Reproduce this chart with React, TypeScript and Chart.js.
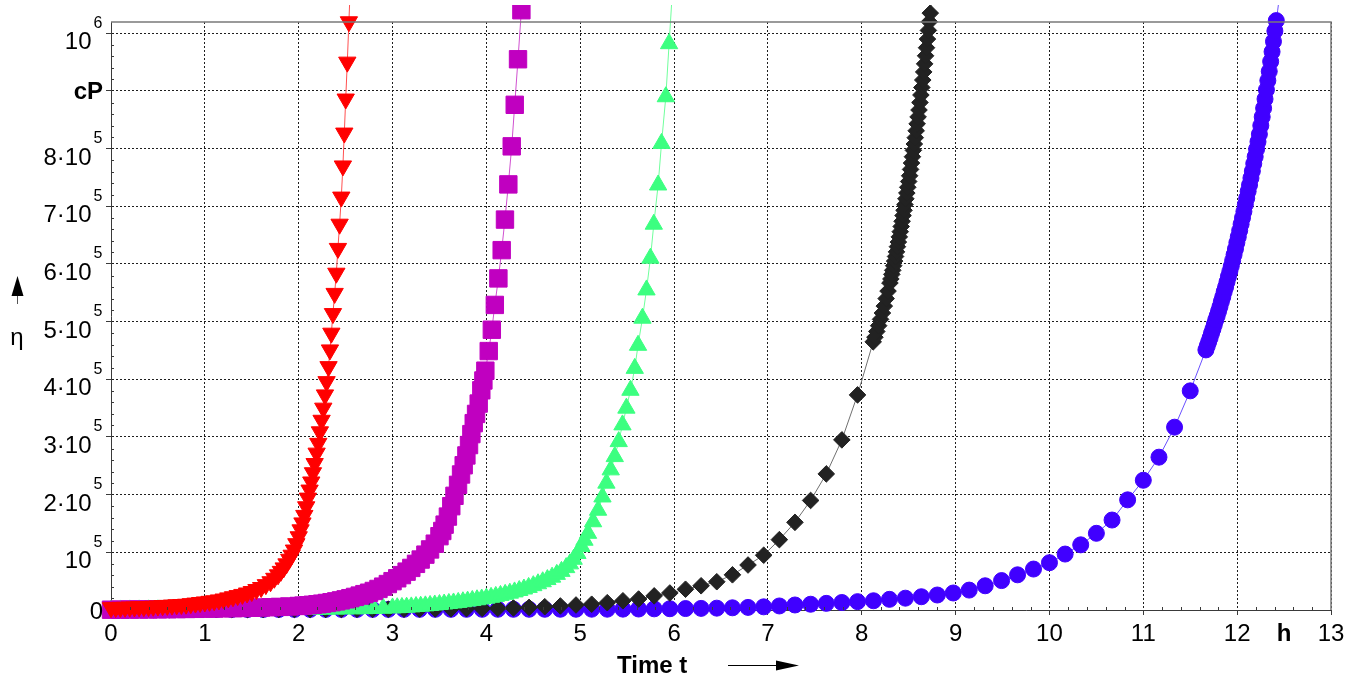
import React, { useEffect, useRef } from "react";
import { Chart, registerables } from "chart.js";

Chart.register(...registerables);

// ---------- axis data ----------
const xTicks = [0, 1, 2, 3, 4, 5, 6, 7, 8, 9, 10, 11, 12, 13];
const xTickLabels = ["0", "1", "2", "3", "4", "5", "6", "7", "8", "9", "10", "11", "12", "13"];
const xUnit = "h";
const xUnitAt = 12.5;
const yTicks = [0, 100000, 200000, 300000, 400000, 500000, 600000, 700000, 800000, 900000, 1000000];
const yTickLabels = ["0", "10", "2·10", "3·10", "4·10", "5·10", "6·10", "7·10", "8·10", "cP", "10"];
const yTickExps = ["", "5", "5", "5", "5", "5", "5", "5", "5", "", "6"];
const yUnit = "cP";
const xTitle = "Time t";
const yTitle = "η";

// ---------- series (t in h, η in cP) ----------
const redPoints: number[][] = [
  [0, 4000], [0.05, 4200], [0.1, 4500], [0.15, 4700], [0.2, 5000], [0.25, 5200], [0.3, 5500], [0.35, 5800],
  [0.4, 6000], [0.45, 6500], [0.5, 7000], [0.55, 7500], [0.6, 8000], [0.65, 8500], [0.7, 9000], [0.75, 9500],
  [0.8, 10000], [0.85, 11000], [0.9, 12000], [0.95, 13000], [1.0, 14000], [1.05, 15000], [1.1, 16000],
  [1.15, 17500], [1.2, 19000], [1.25, 21000], [1.3, 23000], [1.35, 25000], [1.4, 27000], [1.45, 29500],
  [1.5, 32000], [1.55, 35500], [1.6, 39000], [1.65, 44000], [1.7, 49000], [1.74, 55000], [1.78, 61000],
  [1.81, 67000], [1.84, 73000], [1.87, 80000], [1.9, 88000], [1.925, 95000], [1.95, 104000], [1.975, 115000],
  [2.0, 127000], [2.02, 139000], [2.04, 151000], [2.06, 164000], [2.08, 179000], [2.098, 194000],
  [2.116, 208000], [2.134, 222000], [2.152, 238000], [2.17, 254000], [2.191, 272000], [2.209, 289000],
  [2.226, 309000], [2.244, 329000], [2.262, 350000], [2.28, 373000], [2.297, 396000], [2.318, 422000],
  [2.333, 451000], [2.348, 480000], [2.365, 514000], [2.383, 549000], [2.401, 584000], [2.418, 627000],
  [2.436, 669000], [2.454, 716000], [2.471, 770000], [2.486, 827000], [2.501, 886000], [2.518, 950000],
  [2.535, 1020000], [2.553, 1095000],
];

const magentaPoints: number[][] = [
  [0, 500], [0.1, 600], [0.2, 800], [0.3, 900], [0.4, 1000], [0.5, 1200], [0.6, 1400], [0.7, 1600],
  [0.8, 1800], [0.9, 2000], [1.0, 2300], [1.1, 2600], [1.2, 2900], [1.3, 3200], [1.4, 3500], [1.5, 3900],
  [1.6, 4300], [1.7, 4800], [1.8, 5400], [1.9, 6100], [2.0, 7000], [2.05, 7600], [2.1, 8300], [2.15, 9100],
  [2.2, 10000], [2.25, 11000], [2.3, 12200], [2.35, 13500], [2.4, 15000], [2.45, 16700], [2.5, 18500],
  [2.55, 20500], [2.6, 22700], [2.65, 25000], [2.7, 27500], [2.75, 30000], [2.8, 33000], [2.85, 36500],
  [2.9, 40500], [2.95, 45000], [3.0, 50000], [3.05, 55000], [3.1, 60500], [3.15, 66500], [3.2, 73000],
  [3.25, 80000], [3.3, 87500], [3.35, 96000], [3.4, 105000], [3.45, 115000], [3.5, 128000], [3.53, 137000],
  [3.555, 148000], [3.59, 162000], [3.626, 180000], [3.66, 198000], [3.698, 217000], [3.73, 235000],
  [3.758, 251000], [3.787, 268000], [3.815, 286000], [3.84, 305000], [3.865, 324000], [3.89, 340000],
  [3.918, 358000], [3.946, 381000], [3.968, 398000], [3.989, 415000], [4.025, 449000], [4.058, 486000],
  [4.09, 529000], [4.128, 575000], [4.163, 624000], [4.198, 677000], [4.234, 738000], [4.27, 804000],
  [4.302, 876000], [4.337, 955000], [4.373, 1040000], [4.41, 1130000],
];

const greenPoints: number[][] = [
  [0, 0], [0.1, 100], [0.2, 150], [0.3, 200], [0.4, 250], [0.5, 300], [0.6, 350], [0.7, 400], [0.8, 450],
  [0.9, 500], [1.0, 550], [1.1, 600], [1.2, 650], [1.3, 700], [1.4, 750], [1.5, 800], [1.6, 850], [1.7, 900],
  [1.8, 1000], [1.9, 1050], [2.0, 1100], [2.1, 1200], [2.2, 1300], [2.3, 1400], [2.4, 1600], [2.5, 1800],
  [2.6, 2000], [2.7, 2300], [2.8, 2700], [2.9, 3100], [3.0, 3600], [3.05, 4000], [3.1, 4400], [3.15, 4900],
  [3.2, 5400], [3.25, 6000], [3.3, 6600], [3.35, 7200], [3.4, 7900], [3.45, 8700], [3.5, 9500], [3.55, 10400],
  [3.6, 11300], [3.65, 12200], [3.7, 13200], [3.75, 14300], [3.8, 15400], [3.85, 16600], [3.9, 17800],
  [3.95, 19100], [4.0, 20500], [4.05, 22000], [4.1, 23600], [4.15, 25300], [4.2, 27200], [4.25, 29200],
  [4.3, 31400], [4.35, 33800], [4.4, 36400], [4.45, 39200], [4.5, 42200], [4.55, 45500], [4.6, 49000],
  [4.65, 52800], [4.7, 57000], [4.75, 61800], [4.8, 67000], [4.85, 73500], [4.89, 80000], [4.93, 88000],
  [4.97, 98000], [5.013, 110000], [5.045, 121000], [5.083, 133000], [5.137, 153000], [5.19, 173000],
  [5.237, 196000], [5.279, 220000], [5.325, 243000], [5.368, 266000], [5.41, 292000], [5.45, 321000],
  [5.492, 350000], [5.535, 381000], [5.581, 419000], [5.616, 459000], [5.663, 506000], [5.706, 555000],
  [5.748, 610000], [5.784, 669000], [5.83, 737000], [5.866, 809000], [5.912, 890000], [5.947, 982000],
  [5.985, 1080000],
];

// 10-minute samples shared by the black and blue runs
const coarseT = [
  0.122, 0.288, 0.455, 0.622, 0.788, 0.955, 1.122, 1.288, 1.455, 1.622, 1.788, 1.955, 2.122, 2.288, 2.455,
  2.622, 2.788, 2.955, 3.122, 3.288, 3.455, 3.622, 3.788, 3.955, 4.122, 4.288, 4.455, 4.622, 4.788, 4.955,
  5.122, 5.288, 5.455, 5.622, 5.788, 5.955, 6.122, 6.288, 6.455, 6.622, 6.788, 6.955, 7.122, 7.288, 7.455,
  7.622, 7.788, 7.955, 8.125, 8.295, 8.465, 8.635, 8.805, 8.975, 9.145, 9.315, 9.49, 9.66, 9.83, 10.0,
  10.167, 10.333, 10.5, 10.667, 10.833, 11.0, 11.167, 11.333, 11.5,
];

const blackCoarse = [
  500, 500, 500, 500, 600, 600, 600, 700, 700, 800, 800, 900, 900, 1000, 1100, 1200, 1300, 1400, 1500, 1700,
  1900, 2100, 2400, 2700, 3000, 3500, 4500, 5700, 7000, 8700, 10000, 12700, 16000, 19000, 24500, 29500,
  36000, 42000, 49000, 61000, 78000, 95000, 122000, 152000, 190000, 236000, 295000, 373000,
];

const blackDense: number[][] = [
  [8.122, 465000], [8.14, 473000], [8.16, 483000], [8.18, 493000], [8.2, 504000], [8.22, 515000],
  [8.24, 527000], [8.26, 540000], [8.28, 553000], [8.3, 567000], [8.31, 574000], [8.32, 582000],
  [8.33, 589000], [8.34, 597000], [8.35, 605000], [8.36, 613000], [8.37, 621000], [8.38, 630000],
  [8.39, 638000], [8.4, 647000], [8.41, 656000], [8.42, 665000], [8.43, 674000], [8.44, 684000],
  [8.45, 693000], [8.46, 703000], [8.47, 713000], [8.48, 723000], [8.49, 733000], [8.5, 743000],
  [8.51, 753000], [8.52, 764000], [8.53, 775000], [8.54, 786000], [8.55, 797000], [8.56, 808000],
  [8.57, 819000], [8.58, 831000], [8.59, 843000], [8.6, 855000], [8.61, 867000], [8.62, 880000],
  [8.63, 893000], [8.64, 906000], [8.65, 919000], [8.66, 933000], [8.67, 947000], [8.68, 961000],
  [8.69, 975000], [8.7, 990000], [8.71, 1005000], [8.72, 1020000], [8.73, 1035000], [8.74, 1051000],
  [8.75, 1067000],
];

const blueCoarse = [
  800, 800, 800, 800, 800, 850, 850, 850, 900, 900, 900, 950, 950, 1000, 1000, 1000, 1050, 1050, 1100, 1100,
  1150, 1150, 1200, 1200, 1250, 1250, 1300, 1300, 1350, 1350, 1400, 1400, 1500, 1700, 2000, 2200, 2500, 2800,
  3200, 3800, 4500, 5500, 7000, 8700, 10000, 11500, 13000, 14500, 16000, 18500, 20500, 23000, 26000, 29500,
  34500, 42000, 51000, 61000, 71000, 82000, 97000, 113000, 133000, 156000, 191000, 225000, 265000, 317000,
  380000,
];

const blueDense: number[][] = [
  [11.667, 451000], [11.682, 458000], [11.697, 465000], [11.712, 472000], [11.727, 480000], [11.742, 487000],
  [11.757, 495000], [11.772, 503000], [11.787, 510000], [11.802, 518000], [11.817, 526000], [11.832, 535000],
  [11.847, 543000], [11.862, 552000], [11.877, 560000], [11.892, 569000], [11.907, 578000], [11.922, 587000],
  [11.937, 596000], [11.952, 606000], [11.967, 616000], [11.982, 626000], [11.997, 637000], [12.012, 647000],
  [12.027, 658000], [12.042, 669000], [12.057, 680000], [12.072, 691000], [12.087, 703000], [12.102, 714000],
  [12.117, 726000], [12.132, 737000], [12.147, 749000], [12.162, 761000], [12.177, 774000], [12.192, 786000],
  [12.207, 799000], [12.222, 812000], [12.237, 825000], [12.252, 840000], [12.267, 855000], [12.282, 870000],
  [12.297, 886000], [12.312, 902000], [12.327, 918000], [12.342, 934000], [12.357, 951000], [12.372, 968000],
  [12.387, 986000], [12.402, 1004000], [12.417, 1022000], [12.432, 1040000], [12.447, 1059000],
  [12.462, 1078000],
];

// ---------- helpers ----------
const FONT = '"Liberation Sans", Arial, Helvetica, sans-serif';

const toXY = (pts: number[][]) => pts.map(([x, y]) => ({ x, y }));

const decorations = {
  id: "decorations",
  afterDraw(chart: any) {
    const { ctx, chartArea: a, scales } = chart;
    const xs = scales.x;
    const ys = scales.y;
    ctx.save();

    // minor ticks (inside)
    ctx.strokeStyle = "#3a3a3a";
    ctx.lineWidth = 1;
    ctx.beginPath();
    for (let i = 1; i < 65; i++) {
      if (i % 5 === 0) continue;
      const px = Math.round(xs.getPixelForValue(i * 0.2)) + 0.5;
      ctx.moveTo(px, a.bottom);
      ctx.lineTo(px, a.bottom - 3);
    }
    for (let i = 1; i < 51; i++) {
      if (i % 5 === 0) continue;
      const py = Math.round(ys.getPixelForValue(i * 20000)) + 0.5;
      ctx.moveTo(a.left, py);
      ctx.lineTo(a.left + 3, py);
    }
    ctx.stroke();

    // top and right frame
    ctx.strokeStyle = "#7a7a7a";
    ctx.lineWidth = 1.5;
    ctx.beginPath();
    ctx.moveTo(a.left, a.top);
    ctx.lineTo(a.right, a.top);
    ctx.lineTo(a.right, a.bottom);
    ctx.stroke();

    // y tick labels
    ctx.fillStyle = "#000";
    ctx.textBaseline = "alphabetic";
    yTicks.forEach((v, i) => {
      const py = ys.getPixelForValue(v);
      const label = yTickLabels[i];
      const exp = yTickExps[i];
      if (exp) {
        ctx.font = `24px ${FONT}`;
        ctx.textAlign = "right";
        ctx.fillText(label, a.left - 19.5, py + 16);
        ctx.font = `16px ${FONT}`;
        ctx.textAlign = "left";
        ctx.fillText(exp, a.left - 17.5, py - 5.5);
      } else {
        ctx.font = `${label === yUnit ? "bold " : ""}24px ${FONT}`;
        ctx.textAlign = "right";
        ctx.fillText(label, a.left - 8, py + 8.5);
      }
    });

    // x tick labels
    ctx.textAlign = "center";
    ctx.font = `24px ${FONT}`;
    xTicks.forEach((v, i) => {
      ctx.fillText(xTickLabels[i], xs.getPixelForValue(v), a.bottom + 30.5);
    });
    ctx.font = `bold 24px ${FONT}`;
    ctx.fillText(xUnit, xs.getPixelForValue(xUnitAt), a.bottom + 30.5);

    // x title + arrow
    ctx.textAlign = "left";
    ctx.font = `bold 24px ${FONT}`;
    ctx.fillText(xTitle, 617, 672.5);
    ctx.strokeStyle = "#000";
    ctx.lineWidth = 1;
    ctx.beginPath();
    ctx.moveTo(728, 665.5);
    ctx.lineTo(778, 665.5);
    ctx.stroke();
    ctx.beginPath();
    ctx.moveTo(776, 660.5);
    ctx.lineTo(799, 665.5);
    ctx.lineTo(776, 670.5);
    ctx.closePath();
    ctx.fill();

    // y title + arrow
    ctx.textAlign = "center";
    ctx.font = `24px ${FONT}`;
    ctx.fillText(yTitle, 17, 345);
    ctx.strokeStyle = "#555";
    ctx.beginPath();
    ctx.moveTo(17.5, 304);
    ctx.lineTo(17.5, 294);
    ctx.stroke();
    ctx.beginPath();
    ctx.moveTo(17.5, 276);
    ctx.lineTo(23.5, 296);
    ctx.lineTo(11.5, 296);
    ctx.closePath();
    ctx.fill();

    ctx.restore();
  },
};

const CLIP = { left: 14, top: 17, right: 14, bottom: 14 };

function series(
  label: string,
  data: { x: number; y: number }[],
  fill: string,
  line: string,
  style: string,
  radius: number,
  rotation = 0
) {
  return {
    label,
    data,
    showLine: true,
    tension: 0,
    borderColor: line,
    borderWidth: 1,
    pointStyle: style,
    pointRadius: radius,
    pointRotation: rotation,
    pointBackgroundColor: fill,
    pointBorderColor: fill,
    pointBorderWidth: 1,
    clip: CLIP,
  };
}

export default function App() {
  const ref = useRef<HTMLCanvasElement | null>(null);

  useEffect(() => {
    if (!ref.current) return;
    const black = [
      ...blackCoarse.map((y, i) => ({ x: coarseT[i], y })),
      ...toXY(blackDense),
    ];
    const blue = [
      ...blueCoarse.map((y, i) => ({ x: coarseT[i], y })),
      ...toXY(blueDense),
    ];
    const grid = {
      color: "#1e1e1e",
      lineWidth: 1,
      drawTicks: true,
      tickLength: 5,
      tickColor: "#3a3a3a",
      tickBorderDash: [],
    };
    const chart = new Chart(ref.current, {
      type: "scatter",
      data: {
        datasets: [
          series("red", toXY(redPoints), "#ff0000", "#ff5050", "triangle", 10, 180),
          series("magenta", toXY(magentaPoints), "#c000c0", "#d050d0", "rect", 12.3),
          series("green", toXY(greenPoints), "#3cff80", "#70ff9c", "triangle", 10),
          series("black", black, "#222222", "#707070", "rectRot", 8.3),
          series("blue", blue, "#4000ff", "#6a50ff", "circle", 8),
        ] as any,
      },
      options: {
        responsive: false,
        animation: false,
        events: [],
        layout: { padding: { top: 22, right: 27, left: 0, bottom: 0 } },
        plugins: { legend: { display: false }, tooltip: { enabled: false } },
        scales: {
          x: {
            type: "linear",
            min: 0,
            max: 13,
            afterBuildTicks: (s: any) => {
              s.ticks = xTicks.map((value) => ({ value }));
            },
            afterFit: (s: any) => {
              s.height = 65;
            },
            ticks: { display: false },
            grid,
            border: { display: true, color: "#3a3a3a", width: 1, dash: [2, 2] },
          },
          y: {
            type: "linear",
            min: 0,
            max: 1019600,
            afterBuildTicks: (s: any) => {
              s.ticks = yTicks.map((value) => ({ value }));
            },
            afterFit: (s: any) => {
              s.width = 111;
            },
            ticks: { display: false },
            grid,
            border: { display: true, color: "#3a3a3a", width: 1, dash: [2, 2] },
          },
        },
      } as any,
      plugins: [decorations],
    });
    return () => chart.destroy();
  }, []);

  return (
    <div style={{ position: "fixed", left: 0, top: 0, width: 1358, height: 675, background: "#fff" }}>
      <canvas ref={ref} width={1358} height={675} style={{ display: "block" }} />
    </div>
  );
}
